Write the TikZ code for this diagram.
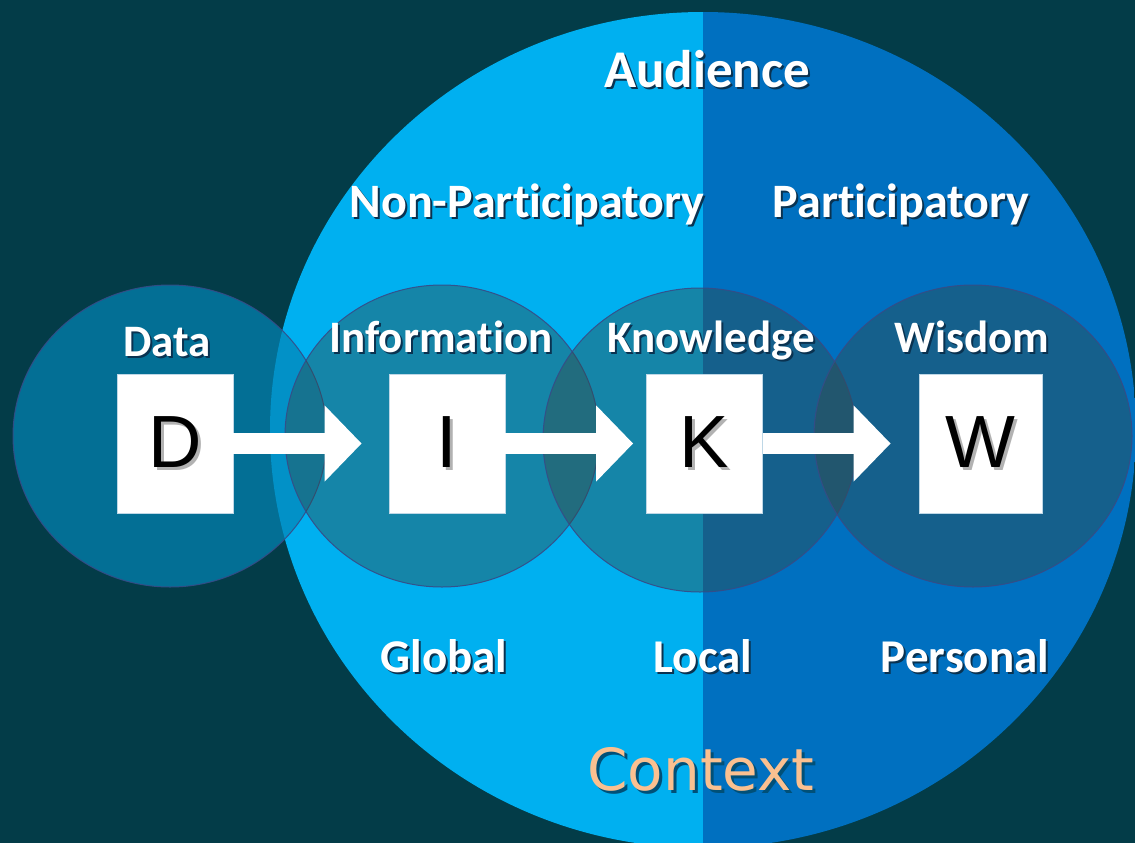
\documentclass[tikz,border=0pt]{standalone}
\usepackage{fontspec}
\setmainfont{Carlito}[Ligatures=NoCommon]
\newfontfamily\letterfont{Liberation Sans}
\newfontfamily\ctxfont{DejaVu Sans}
\usetikzlibrary{arrows.meta}
\definecolor{bgc}{RGB}{3,60,72}
\definecolor{lblue}{RGB}{0,176,240}
\definecolor{dblue}{RGB}{0,112,192}
\definecolor{datafill}{RGB}{3,133,183}
\definecolor{circfill}{RGB}{52,74,69}
\definecolor{circline}{RGB}{55,75,135}
\definecolor{txtshadow}{RGB}{10,50,80}
\definecolor{ctxshadow}{RGB}{0,80,120}
\definecolor{peach}{RGB}{250,192,144}
\definecolor{sqline}{RGB}{190,215,230}
\newcommand\shd[3]{\rlap{\textcolor{#1}{\kern#2\raisebox{-#2}{#3}}}#3}
\begin{document}
\begin{tikzpicture}[x=1pt,y=-1pt,
  lbl/.style={text=white,font=\fontsize{45}{45}\selectfont\bfseries,anchor=base,inner sep=0pt},
  toplbl/.style={lbl,font=\fontsize{48}{48}\selectfont\bfseries},
  botlbl/.style={lbl,font=\fontsize{47}{47}\selectfont\bfseries},
  sq/.style={fill=white,draw=sqline,line width=0.8pt,minimum width=116pt,minimum height=139pt,inner sep=0pt,font=\fontsize{74}{74}\selectfont\letterfont},
  circ/.style={fill=circfill,fill opacity=0.42,draw=circline,line width=1pt,draw opacity=0.9},
  datacirc/.style={fill=datafill,fill opacity=0.7,draw=circline,line width=1pt,draw opacity=0.9},
  flow/.style={line width=21pt,draw=white,-{Triangle[length=37pt,width=74pt]}}]
\fill[bgc] (0,0) rectangle (1135,843);
\useasboundingbox (0,0) rectangle (1135,843);
% big context / audience ellipse
\begin{scope}
  \clip (703,430) ellipse [x radius=433pt, y radius=418pt];
  \fill[lblue] (0,0) rectangle (703,843);
  \fill[dblue] (703,0) rectangle (1135,843);
\end{scope}
% DIKW circles
\draw[datacirc] (170,436) ellipse [x radius=157pt, y radius=151pt];
\draw[circ] (442,436) ellipse [x radius=157pt, y radius=151pt];
\draw[circ] (700,440) ellipse [x radius=157pt, y radius=152pt];
\draw[circ] (973,436) ellipse [x radius=159pt, y radius=151pt];
% squares
\node[sq] (D) at (175,443.5) {\shd{gray!60}{3pt}{D}};
\node[sq] (I) at (447,443.5) {\shd{gray!60}{3pt}{I}};
\node[sq] (K) at (704.5,443.5) {\shd{gray!60}{3pt}{K}};
\node[sq,minimum width=123pt] (W) at (980.5,443.5) {\shd{gray!60}{3pt}{W}};
% arrows
\draw[flow,shorten >=27pt] (D) -- (I);
\draw[flow,shorten >=13pt] (I) -- (K);
\draw[flow,shorten >=28pt] (K) -- (W);
% labels
\node[lbl,font=\fontsize{53}{53}\selectfont\bfseries] (aud) at (707,87) {\shd{txtshadow}{2pt}{Audience}};
\node[toplbl] (np) at (527,217) {\shd{txtshadow}{2pt}{Non-Participatory}};
\node[toplbl] (pa) at (901,217) {\shd{txtshadow}{2pt}{Participatory}};
\node[lbl] (ld) at (167,356) {\shd{txtshadow}{2pt}{Data}};
\node[lbl] (li) at (441,352) {\shd{txtshadow}{2pt}{Information}};
\node[lbl] (lk) at (711,352) {\shd{txtshadow}{2pt}{Knowledge}};
\node[lbl] (lw) at (972,352) {\shd{txtshadow}{2pt}{Wisdom}};
\node[botlbl] (gl) at (444,672) {\shd{txtshadow}{2pt}{Global}};
\node[botlbl] (lo) at (703,672) {\shd{txtshadow}{2pt}{Local}};
\node[botlbl] (pe) at (965,672) {\shd{txtshadow}{2pt}{Personal}};
\node[anchor=base,inner sep=0pt,text=peach,font=\fontsize{58}{58}\selectfont\ctxfont] (ctx) at (701,790) {\shd{ctxshadow}{3pt}{Context}};
\end{tikzpicture}
\end{document}
